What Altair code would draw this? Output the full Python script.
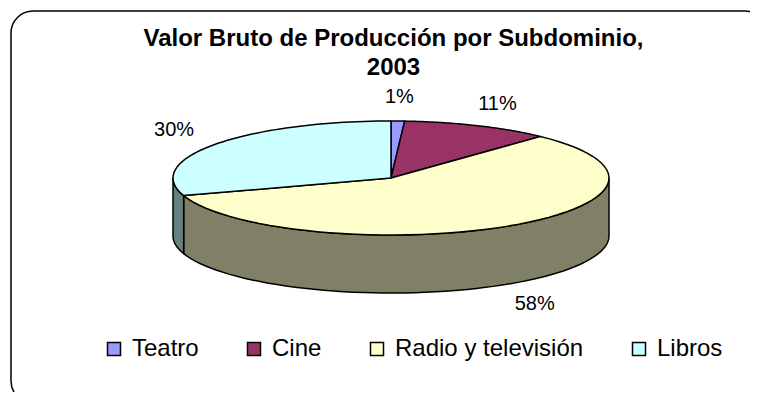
import altair as alt
import pandas as pd

# ---- data ----
categories = ["Teatro", "Cine", "Radio y televisión", "Libros"]
values = [1, 11, 58, 30]
top_colors = ["#9999FF", "#993366", "#FFFFCC", "#CCFFFF"]
side_colors = ["#4D4D80", "#4D1A33", "#808066", "#668080"]
title_lines = ["Valor Bruto de Producción por Subdominio,", "2003"]

df = pd.DataFrame({
    "cat": categories,
    "value": values,
    "side": side_colors,
    "idx": list(range(len(categories))),
})

# ---- layout constants (page pixel space) ----
CX, CY, RX, RY, DEPTH = 391, 178, 218, 57, 58
N = 60
FONT = "Liberation Sans"
W, H = 739, 381  # view size; view starts at page (11, 11)

X = alt.X("px:Q", axis=None, scale=alt.Scale(domain=[11, 11 + W], nice=False, zero=False))
Y = alt.Y("py:Q", axis=None, scale=alt.Scale(domain=[11, 11 + H], nice=False, zero=False, reverse=True))

base = alt.Chart(df).transform_joinaggregate(
    total="sum(value)"
).transform_window(
    cum="sum(value)", sort=[alt.SortField("idx")]
).transform_calculate(
    a0="2*PI*(datum.cum - datum.value)/datum.total",
    a1="2*PI*datum.cum/datum.total",
)

# rounded chart frame (runs off the bottom/right like the reference)
frame = alt.Chart(pd.DataFrame({"f": [0]})).mark_rect(
    fillOpacity=0, stroke="black", strokeWidth=1.5, cornerRadius=22
).encode(
    x=alt.value(0), x2=alt.value(W + 17), y=alt.value(0), y2=alt.value(H + 11),
)

# side walls (front half of the cylinder)
side = base.transform_calculate(
    lo="max(datum.a0, PI/2)", hi="min(datum.a1, 3*PI/2)"
).transform_filter(
    "datum.hi > datum.lo"
).transform_calculate(
    steps=f"sequence(0, {2 * N + 3})"
).transform_flatten(
    ["steps"], as_=["step"]
).transform_calculate(
    istop=f"datum.step <= {N} || datum.step == {2 * N + 2}",
    t=f"datum.step <= {N} ? datum.step/{N} : (datum.step == {2 * N + 2} ? 0 : ({2 * N + 1} - datum.step)/{N})",
).transform_calculate(
    ang="datum.lo + (datum.hi - datum.lo)*datum.t",
).transform_calculate(
    px=f"{CX} + {RX}*sin(datum.ang)",
    py=f"{CY} - {RY}*cos(datum.ang) + (datum.istop ? 0 : {DEPTH})",
).mark_line(stroke="black", strokeWidth=1.5, strokeJoin="round").encode(
    x=X, y=Y,
    order=alt.Order("step:Q"),
    detail="cat:N",
    fill=alt.Fill("side:N", scale=None, legend=None),
)

# top faces
top = base.transform_calculate(
    steps=f"sequence(0, {N + 3})"
).transform_flatten(
    ["steps"], as_=["step"]
).transform_calculate(
    center=f"datum.step == 0 || datum.step == {N + 2}",
    ang=f"datum.a0 + (datum.a1 - datum.a0)*(datum.step - 1)/{N}",
).transform_calculate(
    px=f"datum.center ? {CX} : {CX} + {RX}*sin(datum.ang)",
    py=f"datum.center ? {CY} : {CY} - {RY}*cos(datum.ang)",
).mark_line(stroke="black", strokeWidth=1.5, strokeJoin="round").encode(
    x=X, y=Y,
    order=alt.Order("step:Q"),
    detail="cat:N",
    fill=alt.Fill(
        "cat:N",
        scale=alt.Scale(domain=categories, range=top_colors),
        sort=categories,
        legend=alt.Legend(
            title=None, orient="none", legendX=91, legendY=326,
            direction="horizontal", columns=4, symbolType="square",
            symbolSize=169, symbolStrokeColor="black", symbolStrokeWidth=1.5,
            symbolOpacity=1,
            labelFont=FONT, labelFontSize=24, labelColor="black", labelLimit=400,
            labelOffset=6, columnPadding=43, padding=0,
        ),
    ),
)

# percentage labels
labels = base.transform_calculate(
    m="(datum.a0 + datum.a1)/2",
).transform_calculate(
    px=f"{CX} + {RX}*1.23*sin(datum.m)",
    py=f"{CY} - ({RY}+24)*cos(datum.m) + (cos(datum.m) < 0 ? {DEPTH} : 0)",
    pct="format(datum.value/datum.total, '.0%')",
).mark_text(font=FONT, fontSize=20, color="black", baseline="middle", align="center").encode(
    x=X, y=Y, text="pct:N",
)

chart = alt.layer(frame, side, top, labels).resolve_scale(fill="independent").properties(
    width=W, height=H,
    autosize=alt.AutoSizeParams(type="none"),
    padding={"left": 3, "top": 3, "right": 0, "bottom": 0},
    title=alt.TitleParams(
        text=title_lines, font=FONT, fontSize=24, fontWeight="bold", color="black",
        anchor="middle", frame="group", offset=-70, dx=13, lineHeight=29,
    ),
).configure_view(
    stroke=None,
)

chart.save("out.html", embed_options={"renderer": "svg", "actions": False})
